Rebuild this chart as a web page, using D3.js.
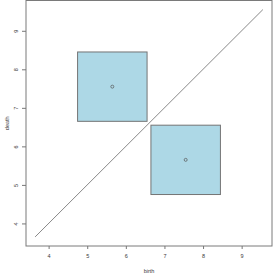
<!DOCTYPE html>
<html><head><meta charset="utf-8">
<script src="https://cdn.jsdelivr.net/npm/d3@7"></script>
<style>body{margin:0;background:#fff}svg{display:block}</style>
</head><body>
<script>
const births = [5.65, 7.55];
const deaths = [7.55, 5.65];
const halfWidth = [0.9, 0.9];
const diagonal = [3.65, 9.55];
const xTicks = [4, 5, 6, 7, 8, 9];
const yTicks = [4, 5, 6, 7, 8, 9];
const xLabel = "birth", yLabel = "death";

const W = 273, H = 273;
const m = {l: 26, r: 1, t: 0.5, b: 27};
const pad = (diagonal[1] - diagonal[0]) * 0.04;
const dom = [diagonal[0] - pad, diagonal[1] + pad];
const x = d3.scaleLinear().domain(dom).range([m.l, W - m.r]);
const y = d3.scaleLinear().domain(dom).range([H - m.b, m.t]);

const svg = d3.select("body").append("svg").attr("width", W).attr("height", H);
const font = "'Liberation Sans', Arial, sans-serif";
const txt = "#3a3a3a";

svg.selectAll("rect.box").data(births).enter().append("rect")
  .attr("x", (d, i) => x(d - halfWidth[i]))
  .attr("y", (d, i) => y(deaths[i] + halfWidth[i]))
  .attr("width", (d, i) => x(d + halfWidth[i]) - x(d - halfWidth[i]))
  .attr("height", (d, i) => y(deaths[i] - halfWidth[i]) - y(deaths[i] + halfWidth[i]))
  .attr("fill", "#add8e6").attr("stroke", "#747474").attr("stroke-width", 1);

svg.append("line")
  .attr("x1", x(diagonal[0])).attr("y1", y(diagonal[0]))
  .attr("x2", x(diagonal[1])).attr("y2", y(diagonal[1]))
  .attr("stroke", "#7a7a7a").attr("stroke-width", 0.9);

svg.selectAll("circle.pt").data(births).enter().append("circle")
  .attr("cx", d => x(d)).attr("cy", (d, i) => y(deaths[i]))
  .attr("r", 1.5).attr("fill", "none").attr("stroke", "#555").attr("stroke-width", 0.7);

svg.append("rect").attr("x", m.l).attr("y", m.t)
  .attr("width", W - m.r - m.l).attr("height", H - m.b - m.t)
  .attr("fill", "none").attr("stroke", "#7a7a7a").attr("stroke-width", 1);

const xa = svg.append("g").attr("transform", `translate(0,${H - m.b})`)
  .call(d3.axisBottom(x).tickValues(xTicks).tickSize(3).tickPadding(5).tickFormat(d3.format("d")));
xa.select(".domain").remove();
xa.selectAll("line").attr("stroke", "#777");
xa.selectAll("text").attr("font-family", font).attr("font-size", 5.5).attr("fill", txt);

const ya = svg.append("g").attr("transform", `translate(${m.l},0)`)
  .call(d3.axisLeft(y).tickValues(yTicks).tickSize(4).tickPadding(6).tickFormat(d3.format("d")));
ya.select(".domain").remove();
ya.selectAll("line").attr("stroke", "#777");
ya.selectAll("text").attr("font-family", font).attr("font-size", 5.5).attr("fill", txt)
  .attr("text-anchor", "middle").attr("dy", null)
  .attr("transform", function() { const xx = +d3.select(this).attr("x"); return `rotate(-90,${xx},0)`; })
  .attr("y", 2);

svg.append("text").attr("x", x((dom[0] + dom[1]) / 2)).attr("y", 272.5)
  .attr("text-anchor", "middle").attr("font-family", font).attr("font-size", 5.5).attr("fill", txt).text(xLabel);
svg.append("text").attr("transform", `translate(9,${y((dom[0] + dom[1]) / 2)}) rotate(-90)`)
  .attr("text-anchor", "middle").attr("font-family", font).attr("font-size", 5.5).attr("fill", txt).text(yLabel);
</script>
</body></html>
